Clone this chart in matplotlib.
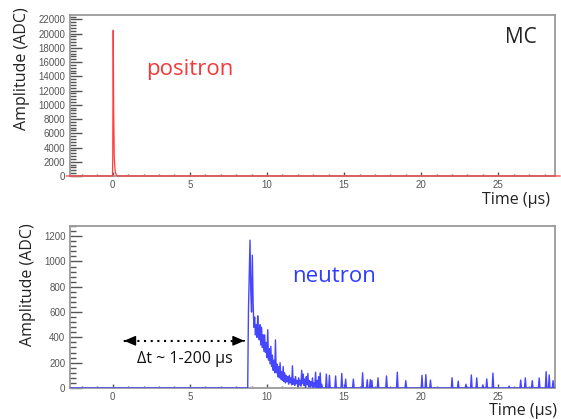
import numpy as np
import matplotlib
matplotlib.use("Agg")
from matplotlib import pyplot as plt
from matplotlib.ticker import MultipleLocator

# positron pulse (red), time in us, amplitude in ADC
positron_t = [-3.0, -0.02, 0.0, 0.03, 0.06, 0.10, 0.15, 0.20, 0.30, 29.0]
positron_a = [0, 0, 2500, 20460, 9000, 2500, 800, 300, 0, 0]

# neutron pulse (blue): dense part sampled every 0.05 us from 8.75 us
neutron_start = 8.75
neutron_step = 0.05
neutron_dense = [
    0, 620, 880, 1168, 760, 600, 1050, 680, 480, 560,
    420, 500, 400, 570, 440, 380, 500, 340, 480, 320,
    420, 290, 420, 280, 360, 240, 460, 220, 310, 190,
    330, 170, 260, 140, 220, 120, 380, 120, 190, 90,
    170, 80, 200, 70, 130, 60, 170, 50, 120, 40,
    100, 50, 90, 30, 100, 40, 80, 25, 175, 30,
    70, 20, 90, 35, 60, 10, 80, 25, 60, 15,
    140, 35, 110, 20, 70, 5, 90, 25, 115, 10,
    60, 5, 50, 15, 80, 0, 40, 10, 125, 0,
    60, 0, 90, 0, 120, 0, 30, 0,
]
# isolated late pulses (time us, amplitude ADC)
late_t = [13.84, 14.03, 14.47, 14.86, 15.1, 15.6, 16.19, 16.5, 16.7, 16.8,
          17.2, 17.75, 18.46, 19.02, 20.05, 20.3, 20.6, 22.02, 22.4, 22.9,
          23.25, 23.62, 24.0, 24.27, 24.63, 25.7, 26.45, 26.73, 27.2, 27.63,
          28.1, 28.28, 28.54]
late_a = [110, 100, 95, 115, 70, 70, 120, 65, 65, 60,
          80, 95, 125, 58, 100, 105, 63, 81, 55, 30,
          103, 80, 25, 72, 118, 15, 63, 80, 58, 79,
          129, 103, 58]

grid = np.round(np.arange(-3.0, 29.0001, neutron_step), 2)
neutron_a = np.zeros_like(grid)
i0 = int(round((neutron_start - grid[0]) / neutron_step))
neutron_a[i0:i0 + len(neutron_dense)] = neutron_dense
for t, a in zip(late_t, late_a):
    neutron_a[int(round((t - grid[0]) / neutron_step))] = a

fig = plt.figure(figsize=(5.61, 4.19), dpi=100)
ax1 = fig.add_axes([0.124, 0.58, 0.866, 0.384])
ax2 = fig.add_axes([0.124, 0.074, 0.866, 0.3866])

for ax in (ax1, ax2):
    ax.set_xlim(-2.8, 28.7)
    ax.xaxis.set_major_locator(MultipleLocator(5))
    ax.xaxis.set_minor_locator(MultipleLocator(1))
    for s in ax.spines.values():
        s.set_color("#9a9a9a")
        s.set_linewidth(1.3)
    ax.tick_params(axis="y", which="major", direction="in", length=8.5, width=1, color="#555", pad=3)
    ax.tick_params(axis="y", which="minor", direction="in", length=4.3, width=1, color="#555")
    ax.tick_params(axis="x", which="major", direction="in", length=3, width=1, color="#555", pad=3)
    ax.tick_params(axis="x", which="minor", direction="in", length=1.5, width=1, color="#555")
    ax.tick_params(labelsize=7, labelcolor="#555")
    for lab in ax.get_xticklabels() + ax.get_yticklabels():
        lab.set_family("Liberation Sans")

ax1.set_ylim(0, 22600)
ax1.yaxis.set_major_locator(MultipleLocator(2000))
ax1.yaxis.set_minor_locator(MultipleLocator(400))
ax2.set_ylim(0, 1280)
ax2.yaxis.set_major_locator(MultipleLocator(200))
ax2.yaxis.set_minor_locator(MultipleLocator(40))

ax1.plot(positron_t, positron_a, color="#ff3b3b", lw=0.9, clip_on=False, zorder=3)
ax2.plot(grid, neutron_a, color="#4646ff", lw=1.0, clip_on=True, zorder=3)

font = "Open Sans"
ax1.text(2.16, 14155, "positron", color="#f23a3a", fontsize=16, family=font, va="baseline")
ax1.text(0.961, 0.826, "MC", color="#222", fontsize=15, family=font, ha="right",
         va="baseline", transform=ax1.transAxes)
ax2.text(11.62, 837, "neutron", color="#2e3cff", fontsize=16, family=font, va="baseline")

# delta t arrow
ax2.plot([0.75, 8.5], [373, 373], color="black", lw=1.5, ls=(0, (1, 2.2)))
arrow = dict(arrowstyle="-|>,head_length=0.7,head_width=0.3", color="black", lw=1)
ax2.annotate("", xy=(0.55, 373), xytext=(0.95, 373), arrowprops=arrow)
ax2.annotate("", xy=(8.72, 373), xytext=(8.32, 373), arrowprops=arrow)
ax2.text(4.65, 197, "Δt ~ 1-200 µs", color="#111", fontsize=11.5, family=font,
         ha="center", va="baseline")

fig.text(22 / 561, 1 - 7 / 419, "Amplitude (ADC)", rotation=90, ha="center", va="top",
         fontsize=11.5, family=font, color="#222")
fig.text(28 / 561, 1 - 223 / 419, "Amplitude (ADC)", rotation=90, ha="center", va="top",
         fontsize=11.5, family=font, color="#222")
fig.text(550 / 561, 1 - 200 / 419, "Time (µs)", ha="right", va="center",
         fontsize=11.5, family=font, color="#222")
fig.text(557 / 561, 1 - 411 / 419, "Time (µs)", ha="right", va="center",
         fontsize=11.5, family=font, color="#222")

fig.savefig("out.png", dpi=100)
